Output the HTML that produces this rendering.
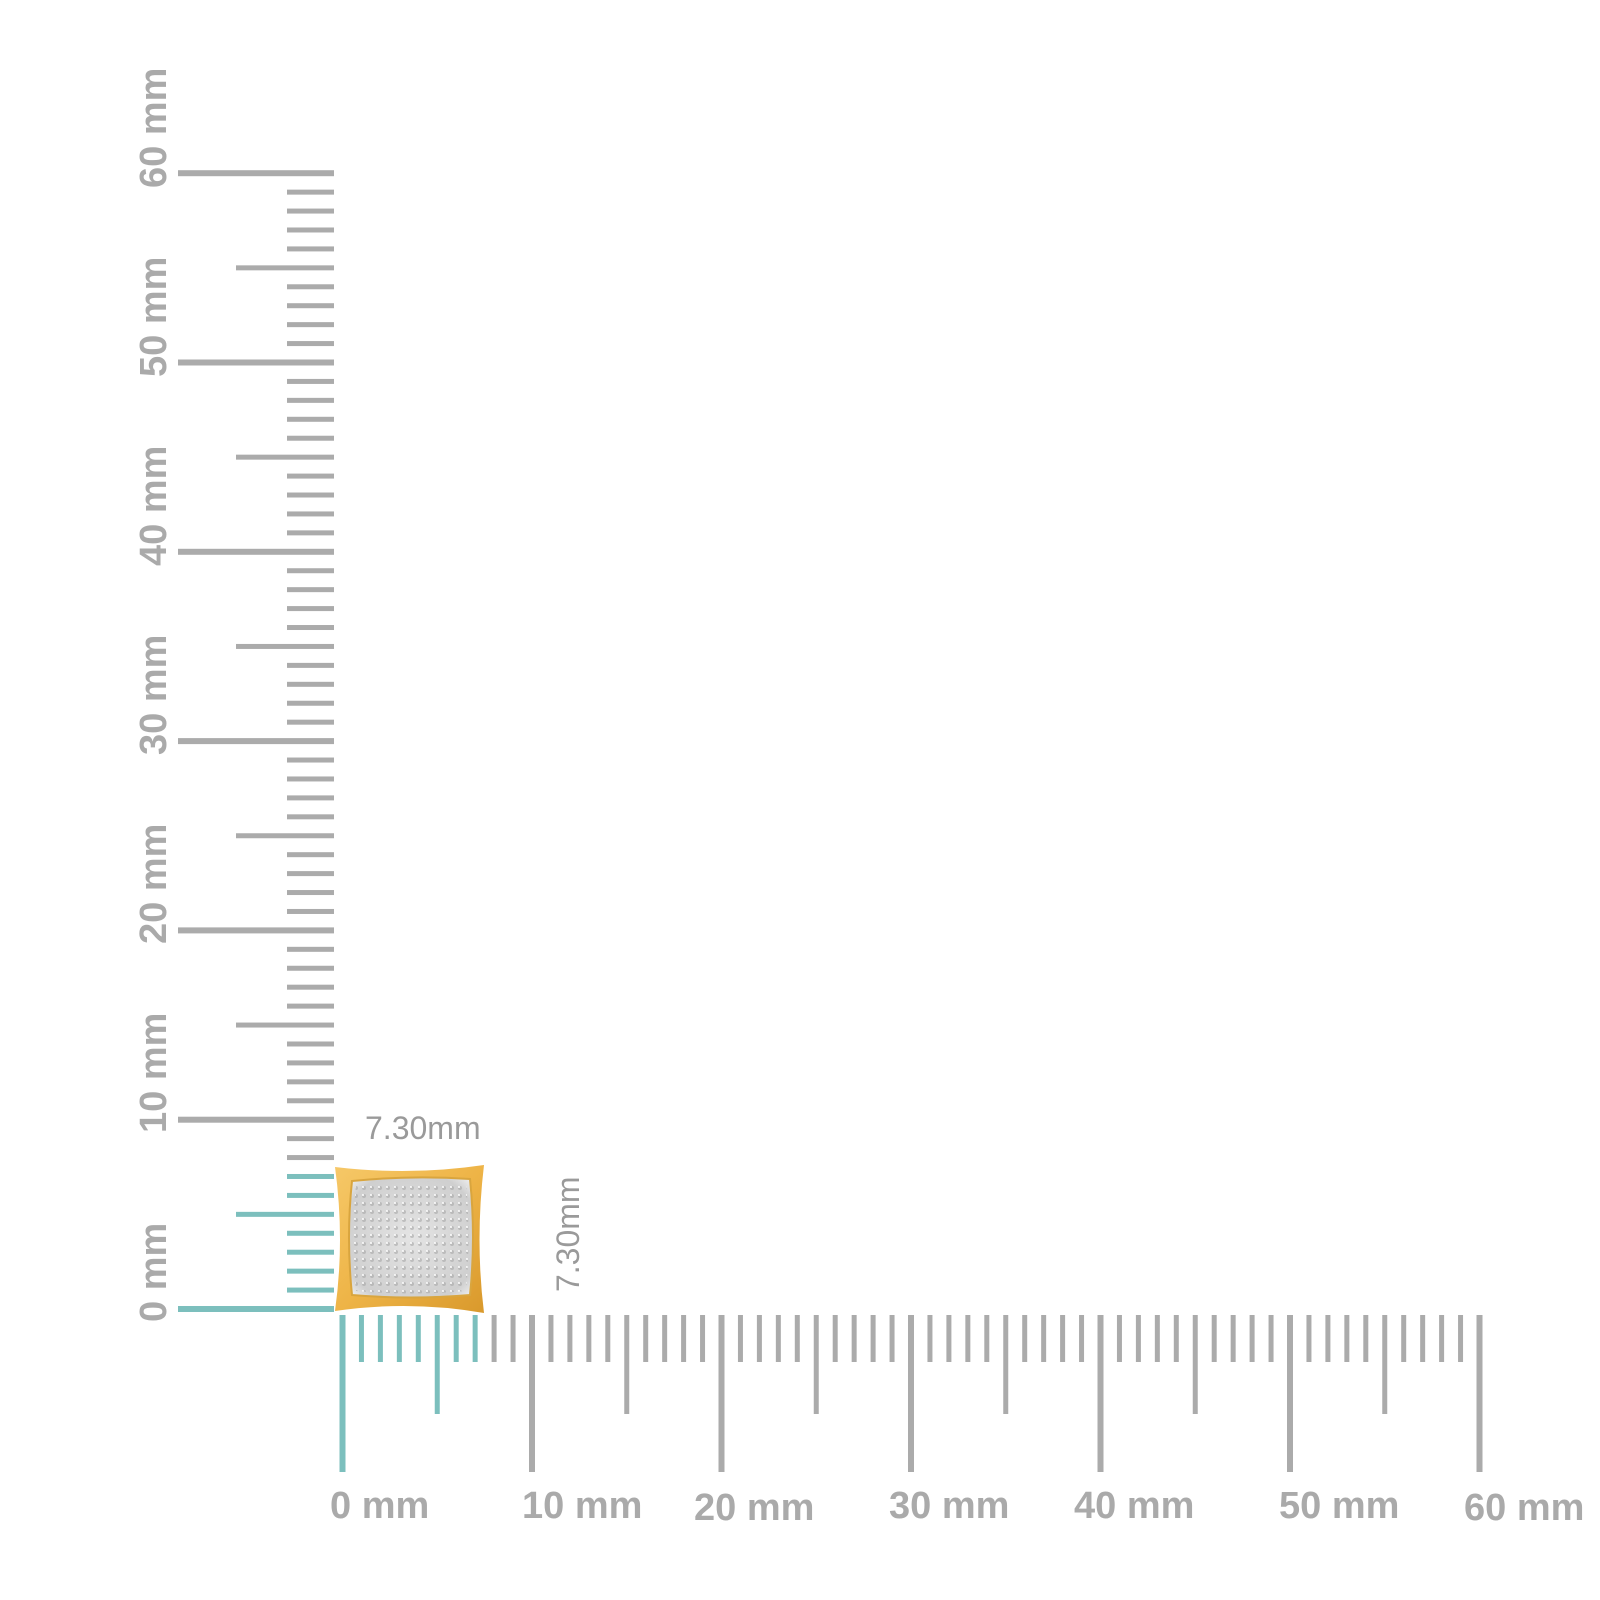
<!DOCTYPE html>
<html><head><meta charset="utf-8"><style>
html,body{margin:0;padding:0;background:#fff;}
svg{display:block;}
text{font-family:"Liberation Sans",sans-serif;}
</style></head><body>
<svg id="s" width="1600" height="1600" viewBox="0 0 1600 1600" xmlns="http://www.w3.org/2000/svg">
<defs>
<linearGradient id="gold" x1="0" y1="0" x2="1" y2="1">
<stop offset="0" stop-color="#f6c868"/><stop offset="0.5" stop-color="#eeb447"/><stop offset="1" stop-color="#d9992c"/>
</linearGradient>
<radialGradient id="pave" cx="0.5" cy="0.5" r="0.7">
<stop offset="0" stop-color="#e4e4e4"/><stop offset="0.8" stop-color="#cfcfcf"/><stop offset="1" stop-color="#f3f3f3"/>
</radialGradient>
<pattern id="dots" width="8" height="8" patternUnits="userSpaceOnUse">
<circle cx="4" cy="4" r="2" fill="#a8a8a8" opacity="0.6"/>
<circle cx="3" cy="3" r="1" fill="#fff"/>
</pattern>
</defs>
<g id="ticks"></g>
<g fill="#aaaaaa" font-weight="bold" font-size="38">
<text x="330" y="1518">0 mm</text>
<text x="522" y="1518">10 mm</text>
<text x="694" y="1520">20 mm</text>
<text x="889" y="1518">30 mm</text>
<text x="1074" y="1518">40 mm</text>
<text x="1279" y="1518">50 mm</text>
<text x="1464" y="1520">60 mm</text>
<text transform="translate(166,1322) rotate(-90)">0 mm</text>
<text transform="translate(166,1133) rotate(-90)">10 mm</text>
<text transform="translate(166,944) rotate(-90)">20 mm</text>
<text transform="translate(166,755) rotate(-90)">30 mm</text>
<text transform="translate(166,566) rotate(-90)">40 mm</text>
<text transform="translate(166,377) rotate(-90)">50 mm</text>
<text transform="translate(166,188) rotate(-90)">60 mm</text>
</g>
<g fill="#9a9a9a" font-size="32">
<text x="365" y="1139">7.30mm</text>
<text transform="translate(579,1292) rotate(-90)">7.30mm</text>
</g>
<path d="M335,1167 Q410,1176 484,1165 Q475,1240 484,1313 Q410,1300 335,1311 Q345,1240 335,1167 Z" fill="url(#gold)"/>
<path d="M352,1181 Q411,1175 470,1179 Q476,1237 470,1295 Q411,1300 352,1295 Q346,1237 352,1181 Z" fill="url(#pave)" stroke="#d9a53e" stroke-width="2"/>
<path d="M356,1185 Q411,1180 466,1183 Q471,1237 466,1291 Q411,1296 356,1291 Q351,1237 356,1185 Z" fill="url(#dots)"/>
</svg>
<script>
var g=document.getElementById('ticks'),h="";
for(var i=0;i<=60;i++){
 var col=i<=7?"#7cbfbd":"#ababab";
 var x=342.5+i*18.95, maj=i%10==0, w=maj?6:5;
 var yb=maj?1472:(i%5==0?1414:1362);
 h+='<rect x="'+(x-w/2)+'" y="1315" width="'+w+'" height="'+(yb-1315)+'" fill="'+col+'"/>';
 var y=1309-i*18.93, xs=maj?178:(i%5==0?236:287);
 h+='<rect x="'+xs+'" y="'+(y-w/2)+'" width="'+(334-xs)+'" height="'+w+'" fill="'+col+'"/>';
}
g.innerHTML=h;
</script>
</body></html>
